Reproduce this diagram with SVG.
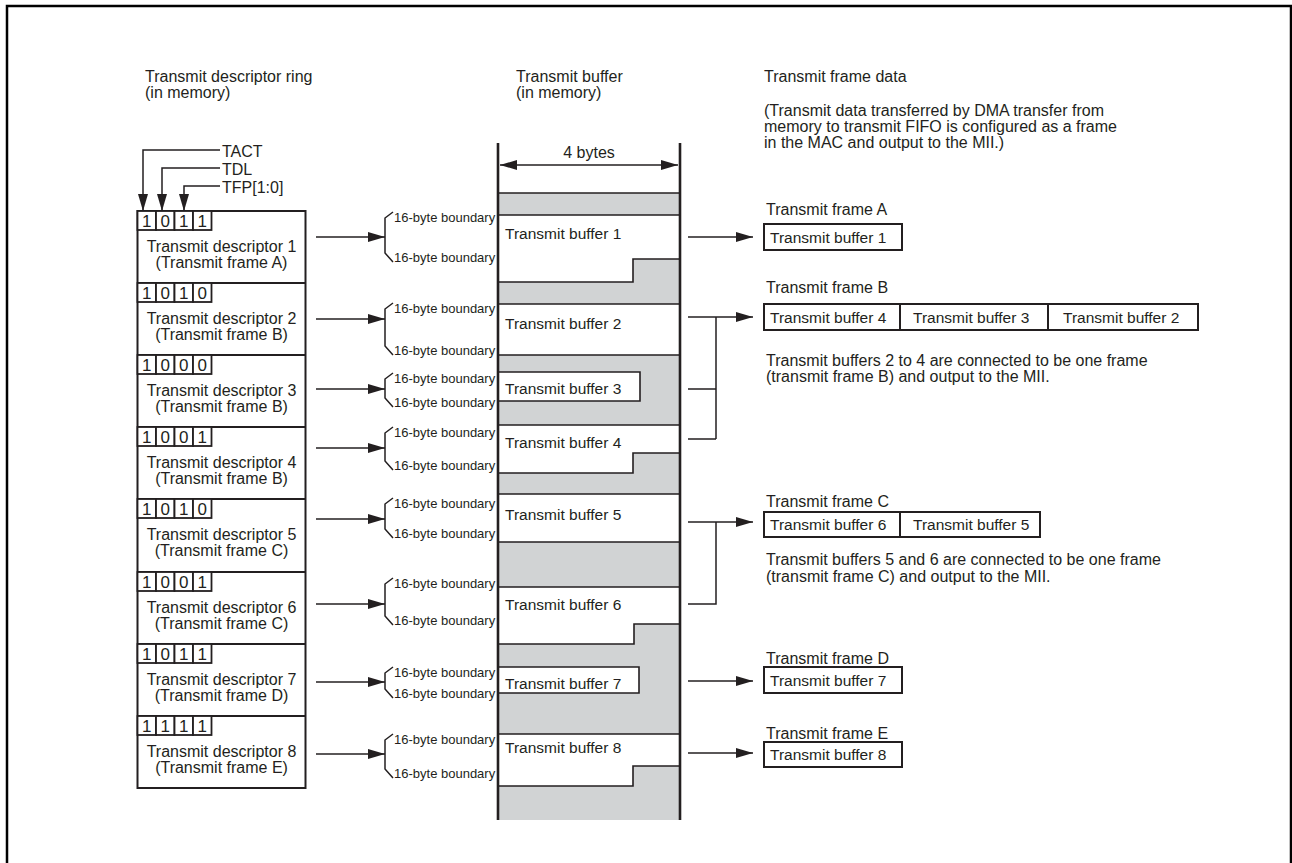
<svg xmlns="http://www.w3.org/2000/svg" width="1292" height="863" viewBox="0 0 1292 863">
<defs>
<marker id="ah" markerUnits="userSpaceOnUse" viewBox="0 0 17 10" refX="17" refY="5" markerWidth="17" markerHeight="10" orient="auto"><path d="M0,0 L17,5 L0,10 z" fill="#231f20"/></marker>
<marker id="ahs" markerUnits="userSpaceOnUse" viewBox="0 0 17 10" refX="0" refY="5" markerWidth="17" markerHeight="10" orient="auto"><path d="M17,0 L0,5 L17,10 z" fill="#231f20"/></marker>
<style>
text{font-family:"Liberation Sans",Arial,sans-serif;fill:#231f20}
.t{font-size:16px}
.d{font-size:17px;text-anchor:middle}
.tb{font-size:15.5px}
.s{font-size:13px}
.m{text-anchor:middle}
.ln{fill:none;stroke:#231f20;stroke-width:1.5}
.sep{fill:none;stroke:#231f20;stroke-width:2}
.bx{fill:#fff;stroke:#231f20;stroke-width:2}
.cell{fill:#fff;stroke:#231f20;stroke-width:1.8}
.col{fill:none;stroke:#231f20;stroke-width:2.6}
.buf{fill:#fff;stroke:none}
.bl{fill:none;stroke:#231f20;stroke-width:1.6}
</style>
</defs>
<rect x="7" y="6" width="1284" height="880" fill="none" stroke="#000" stroke-width="2.5"/>

<g id="headers">
<text class="t" x="145" y="81.5">Transmit descriptor ring</text>
<text class="t" x="145" y="98">(in memory)</text>
<text class="t" x="516" y="81.5">Transmit buffer</text>
<text class="t" x="516" y="98">(in memory)</text>
<text class="t" x="764" y="81.5">Transmit frame data</text>
<text class="t" x="764" y="115.5">(Transmit data transferred by DMA transfer from</text>
<text class="t" x="764" y="131.5">memory to transmit FIFO is configured as a frame</text>
<text class="t" x="764" y="147.5">in the MAC and output to the MII.)</text>
</g>

<g id="bit-labels">
<text class="t" x="222" y="156.5">TACT</text>
<text class="t" x="222" y="174.5">TDL</text>
<text class="t" x="222" y="193">TFP[1:0]</text>
</g>

<g id="descriptor-ring">
<rect class="bx" x="137.5" y="211" width="168" height="577"/>
<g id="desc1"><rect class="cell" x="137.5" y="211" width="18.5" height="19"/><rect class="cell" x="156" y="211" width="18.5" height="19"/><rect class="cell" x="174.5" y="211" width="18.5" height="19"/><rect class="cell" x="193" y="211" width="18.5" height="19"/>
<text class="d" x="146.75" y="227">1</text><text class="d" x="165.25" y="227">0</text><text class="d" x="183.75" y="227">1</text><text class="d" x="202.25" y="227">1</text>
<text class="t m" x="221.5" y="252">Transmit descriptor 1</text><text class="t m" x="221.5" y="268">(Transmit frame A)</text></g>
<g id="desc2"><line class="sep" x1="137.5" y1="283" x2="305.5" y2="283"/><rect class="cell" x="137.5" y="283" width="18.5" height="19"/><rect class="cell" x="156" y="283" width="18.5" height="19"/><rect class="cell" x="174.5" y="283" width="18.5" height="19"/><rect class="cell" x="193" y="283" width="18.5" height="19"/>
<text class="d" x="146.75" y="299">1</text><text class="d" x="165.25" y="299">0</text><text class="d" x="183.75" y="299">1</text><text class="d" x="202.25" y="299">0</text>
<text class="t m" x="221.5" y="324">Transmit descriptor 2</text><text class="t m" x="221.5" y="340">(Transmit frame B)</text></g>
<g id="desc3"><line class="sep" x1="137.5" y1="355" x2="305.5" y2="355"/><rect class="cell" x="137.5" y="355" width="18.5" height="19"/><rect class="cell" x="156" y="355" width="18.5" height="19"/><rect class="cell" x="174.5" y="355" width="18.5" height="19"/><rect class="cell" x="193" y="355" width="18.5" height="19"/>
<text class="d" x="146.75" y="371">1</text><text class="d" x="165.25" y="371">0</text><text class="d" x="183.75" y="371">0</text><text class="d" x="202.25" y="371">0</text>
<text class="t m" x="221.5" y="396">Transmit descriptor 3</text><text class="t m" x="221.5" y="412">(Transmit frame B)</text></g>
<g id="desc4"><line class="sep" x1="137.5" y1="427" x2="305.5" y2="427"/><rect class="cell" x="137.5" y="427" width="18.5" height="19"/><rect class="cell" x="156" y="427" width="18.5" height="19"/><rect class="cell" x="174.5" y="427" width="18.5" height="19"/><rect class="cell" x="193" y="427" width="18.5" height="19"/>
<text class="d" x="146.75" y="443">1</text><text class="d" x="165.25" y="443">0</text><text class="d" x="183.75" y="443">0</text><text class="d" x="202.25" y="443">1</text>
<text class="t m" x="221.5" y="468">Transmit descriptor 4</text><text class="t m" x="221.5" y="484">(Transmit frame B)</text></g>
<g id="desc5"><line class="sep" x1="137.5" y1="499" x2="305.5" y2="499"/><rect class="cell" x="137.5" y="499" width="18.5" height="19"/><rect class="cell" x="156" y="499" width="18.5" height="19"/><rect class="cell" x="174.5" y="499" width="18.5" height="19"/><rect class="cell" x="193" y="499" width="18.5" height="19"/>
<text class="d" x="146.75" y="515">1</text><text class="d" x="165.25" y="515">0</text><text class="d" x="183.75" y="515">1</text><text class="d" x="202.25" y="515">0</text>
<text class="t m" x="221.5" y="540">Transmit descriptor 5</text><text class="t m" x="221.5" y="556">(Transmit frame C)</text></g>
<g id="desc6"><line class="sep" x1="137.5" y1="572" x2="305.5" y2="572"/><rect class="cell" x="137.5" y="572" width="18.5" height="19"/><rect class="cell" x="156" y="572" width="18.5" height="19"/><rect class="cell" x="174.5" y="572" width="18.5" height="19"/><rect class="cell" x="193" y="572" width="18.5" height="19"/>
<text class="d" x="146.75" y="588">1</text><text class="d" x="165.25" y="588">0</text><text class="d" x="183.75" y="588">0</text><text class="d" x="202.25" y="588">1</text>
<text class="t m" x="221.5" y="613">Transmit descriptor 6</text><text class="t m" x="221.5" y="629">(Transmit frame C)</text></g>
<g id="desc7"><line class="sep" x1="137.5" y1="644" x2="305.5" y2="644"/><rect class="cell" x="137.5" y="644" width="18.5" height="19"/><rect class="cell" x="156" y="644" width="18.5" height="19"/><rect class="cell" x="174.5" y="644" width="18.5" height="19"/><rect class="cell" x="193" y="644" width="18.5" height="19"/>
<text class="d" x="146.75" y="660">1</text><text class="d" x="165.25" y="660">0</text><text class="d" x="183.75" y="660">1</text><text class="d" x="202.25" y="660">1</text>
<text class="t m" x="221.5" y="685">Transmit descriptor 7</text><text class="t m" x="221.5" y="701">(Transmit frame D)</text></g>
<g id="desc8"><line class="sep" x1="137.5" y1="716" x2="305.5" y2="716"/><rect class="cell" x="137.5" y="716" width="18.5" height="19"/><rect class="cell" x="156" y="716" width="18.5" height="19"/><rect class="cell" x="174.5" y="716" width="18.5" height="19"/><rect class="cell" x="193" y="716" width="18.5" height="19"/>
<text class="d" x="146.75" y="732">1</text><text class="d" x="165.25" y="732">1</text><text class="d" x="183.75" y="732">1</text><text class="d" x="202.25" y="732">1</text>
<text class="t m" x="221.5" y="757">Transmit descriptor 8</text><text class="t m" x="221.5" y="773">(Transmit frame E)</text></g>
</g>

<g id="braces">
<path class="ln" d="M393,212 L385,218 V253 L393,262"/><text class="s" x="394" y="222">16-byte boundary</text><text class="s" x="394" y="262">16-byte boundary</text>
<path class="ln" d="M393,303 L385,309 V346 L393,355"/><text class="s" x="394" y="313">16-byte boundary</text><text class="s" x="394" y="355">16-byte boundary</text>
<path class="ln" d="M393,373 L385,379 V398 L393,407"/><text class="s" x="394" y="383">16-byte boundary</text><text class="s" x="394" y="407">16-byte boundary</text>
<path class="ln" d="M393,427 L385,433 V461 L393,470"/><text class="s" x="394" y="437">16-byte boundary</text><text class="s" x="394" y="470">16-byte boundary</text>
<path class="ln" d="M393,498 L385,504 V529 L393,538"/><text class="s" x="394" y="508">16-byte boundary</text><text class="s" x="394" y="538">16-byte boundary</text>
<path class="ln" d="M393,578 L385,584 V616 L393,625"/><text class="s" x="394" y="588">16-byte boundary</text><text class="s" x="394" y="625">16-byte boundary</text>
<path class="ln" d="M393,667 L385,673 V689 L393,698"/><text class="s" x="394" y="677">16-byte boundary</text><text class="s" x="394" y="698">16-byte boundary</text>
<path class="ln" d="M393,734 L385,740 V769 L393,778"/><text class="s" x="394" y="744">16-byte boundary</text><text class="s" x="394" y="778">16-byte boundary</text>
</g>

<g id="transmit-buffer">
<rect x="498" y="193" width="182" height="627" fill="#d1d3d4"/>
<line class="bl" x1="498" y1="193" x2="680" y2="193"/>
<g id="buf1"><path class="buf" d="M498,215 H680 V259 H633 V282 H498 z"/><path class="bl" d="M498,215 H680 M680,259 H633 V282 H498"/><text class="tb" x="505" y="239">Transmit buffer 1</text></g>
<g id="buf2"><rect class="buf" x="498" y="304" width="182" height="51"/><path class="bl" d="M498,304 H680 M498,355 H680"/><text class="tb" x="505" y="328.5">Transmit buffer 2</text></g>
<g id="buf3"><rect class="buf" x="498" y="372" width="142" height="29"/><path class="bl" d="M498,372 H640 V401 H498"/><text class="tb" x="505" y="393.5">Transmit buffer 3</text></g>
<g id="buf4"><path class="buf" d="M498,425 H680 V453 H633 V473 H498 z"/><path class="bl" d="M498,425 H680 M680,453 H633 V473 H498"/><text class="tb" x="505" y="447.5">Transmit buffer 4</text></g>
<g id="buf5"><rect class="buf" x="498" y="494" width="182" height="48"/><path class="bl" d="M498,494 H680 M498,542 H680"/><text class="tb" x="505" y="519.5">Transmit buffer 5</text></g>
<g id="buf6"><path class="buf" d="M498,587 H680 V624 H634 V644 H498 z"/><path class="bl" d="M498,587 H680 M680,624 H634 V644 H498"/><text class="tb" x="505" y="609.5">Transmit buffer 6</text></g>
<g id="buf7"><rect class="buf" x="498" y="667" width="141" height="26"/><path class="bl" d="M498,667 H639 V693 H498"/><text class="tb" x="505" y="688.5">Transmit buffer 7</text></g>
<g id="buf8"><path class="buf" d="M498,734 H680 V766 H633 V786 H498 z"/><path class="bl" d="M498,734 H680 M680,766 H633 V786 H498"/><text class="tb" x="505" y="752.5">Transmit buffer 8</text></g>
<line class="col" x1="498" y1="143" x2="498" y2="820"/>
<line class="col" x1="680" y1="143" x2="680" y2="820"/>
<text class="t m" x="589" y="158">4 bytes</text>
</g>

<g id="frames">
<g id="frameA"><text class="t" x="766" y="215">Transmit frame A</text><rect class="bx" x="764" y="224" width="138" height="26"/><text class="tb" x="770" y="242.5">Transmit buffer 1</text></g>
<g id="frameB"><text class="t" x="766" y="293">Transmit frame B</text><rect class="bx" x="764" y="304" width="434" height="26"/><line class="sep" x1="900" y1="304" x2="900" y2="330"/><line class="sep" x1="1048" y1="304" x2="1048" y2="330"/>
<text class="tb" x="770" y="322.5">Transmit buffer 4</text><text class="tb" x="913" y="322.5">Transmit buffer 3</text><text class="tb" x="1063" y="322.5">Transmit buffer 2</text>
<text class="t" x="766" y="365.5">Transmit buffers 2 to 4 are connected to be one frame</text><text class="t" x="766" y="382">(transmit frame B) and output to the MII.</text></g>
<g id="frameC"><text class="t" x="766" y="507">Transmit frame C</text><rect class="bx" x="764" y="512" width="276" height="25"/><line class="sep" x1="900" y1="512" x2="900" y2="537"/>
<text class="tb" x="770" y="530">Transmit buffer 6</text><text class="tb" x="913" y="530">Transmit buffer 5</text>
<text class="t" x="766" y="565">Transmit buffers 5 and 6 are connected to be one frame</text><text class="t" x="766" y="582">(transmit frame C) and output to the MII.</text></g>
<g id="frameD"><text class="t" x="766" y="664">Transmit frame D</text><rect class="bx" x="764" y="667" width="138" height="26"/><text class="tb" x="770" y="685.5">Transmit buffer 7</text></g>
<g id="frameE"><text class="t" x="766" y="739">Transmit frame E</text><rect class="bx" x="764" y="742" width="138" height="25"/><text class="tb" x="770" y="760">Transmit buffer 8</text></g>
</g>

<g id="connectors">
<path class="ln" d="M220,150 H143 V211" marker-end="url(#ah)"/>
<path class="ln" d="M220,168 H162 V211" marker-end="url(#ah)"/>
<path class="ln" d="M220,186 H184 V211" marker-end="url(#ah)"/>
<line class="ln" x1="500" y1="165" x2="678" y2="165" marker-start="url(#ahs)" marker-end="url(#ah)"/>
<line class="ln" x1="316" y1="237" x2="385" y2="237" marker-end="url(#ah)"/>
<line class="ln" x1="316" y1="319" x2="385" y2="319" marker-end="url(#ah)"/>
<line class="ln" x1="316" y1="389" x2="385" y2="389" marker-end="url(#ah)"/>
<line class="ln" x1="316" y1="448" x2="385" y2="448" marker-end="url(#ah)"/>
<line class="ln" x1="316" y1="519" x2="385" y2="519" marker-end="url(#ah)"/>
<line class="ln" x1="316" y1="604" x2="385" y2="604" marker-end="url(#ah)"/>
<line class="ln" x1="316" y1="682" x2="385" y2="682" marker-end="url(#ah)"/>
<line class="ln" x1="316" y1="754" x2="385" y2="754" marker-end="url(#ah)"/>
<line class="ln" x1="688" y1="237" x2="753" y2="237" marker-end="url(#ah)"/>
<line class="ln" x1="688" y1="317" x2="753" y2="317" marker-end="url(#ah)"/>
<path class="ln" d="M688,389 H716 M688,439 H716 M716,317 V439"/>
<line class="ln" x1="688" y1="522" x2="753" y2="522" marker-end="url(#ah)"/>
<path class="ln" d="M688,604 H716 V522"/>
<line class="ln" x1="688" y1="681" x2="753" y2="681" marker-end="url(#ah)"/>
<line class="ln" x1="688" y1="753" x2="753" y2="753" marker-end="url(#ah)"/>
</g>
</svg>
